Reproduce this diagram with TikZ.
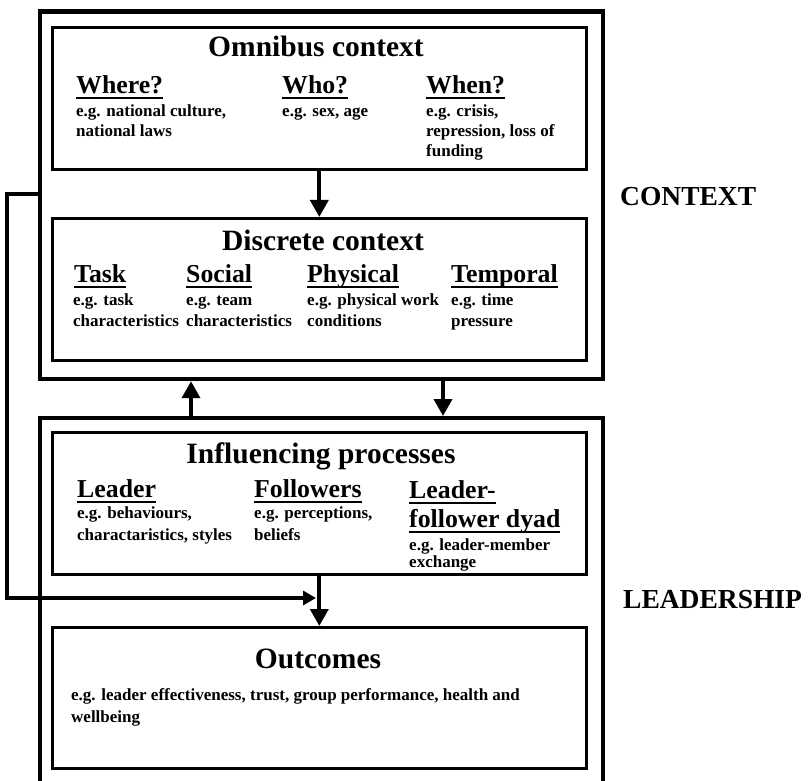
\documentclass[tikz,border=0pt]{standalone}
\usepackage{fontspec}
\setmainfont{Liberation Serif}
\usetikzlibrary{arrows.meta}
\newcommand\ulh[1]{\setbox0\hbox{#1}\rlap{\rule[-5.5pt]{\wd0}{2pt}}\box0}
\tikzset{
  outerbox/.style={draw, line width=4.2pt, anchor=north west, inner sep=0pt},
  innerbox/.style={draw, line width=2.6pt, anchor=north west, inner sep=0pt, minimum width=534pt},
  ttl/.style={anchor=base, inner sep=0pt, font=\bfseries\fontsize{29.5}{30}\selectfont},
  hd/.style={anchor=base west, inner sep=0pt, font=\bfseries\fontsize{25.8}{26}\selectfont},
  bd/.style={anchor=base west, inner sep=0pt, font=\bfseries\fontsize{17}{20}\selectfont},
  side/.style={anchor=base west, inner sep=0pt, font=\bfseries\fontsize{27.5}{28}\selectfont},
  arr/.style={line width=3.8pt, -{Triangle[width=18pt,length=17pt]}},
  fb/.style={line width=3.2pt, -{Triangle[width=14pt,length=13pt]}}
}
\begin{document}
\begin{tikzpicture}[x=1pt,y=-1pt]
\useasboundingbox (0,0) rectangle (809,781);
\clip (0,0) rectangle (809,781);
% outer boxes
\node[outerbox, minimum width=563pt, minimum height=367.5pt] (ctx) at (37.5,9.5) {};
\node[outerbox, minimum width=563pt, minimum height=400pt] (lead) at (37.5,416) {};
% inner boxes
\node[innerbox, minimum height=142pt] (omni) at (51,26) {};
\node[innerbox, minimum height=142pt] (disc) at (51,217) {};
\node[innerbox, minimum height=142pt] (infl) at (51,431) {};
\node[innerbox, minimum height=141pt] (outc) at (51,626) {};
% Omnibus
\node[ttl] (t1) at (316,57) {Omnibus context};
\node[hd] (h11) at (76,94) {\ulh{Where?}};
\node[bd] (b111) at (76,117) {e.g. national culture,};
\node[bd] (b112) at (76,137) {national laws};
\node[hd] (h12) at (282,94) {\ulh{Who?}};
\node[bd] (b121) at (282,117) {e.g. sex, age};
\node[hd] (h13) at (426,94) {\ulh{When?}};
\node[bd] (b131) at (426,117) {e.g. crisis,};
\node[bd] (b132) at (426,137) {repression, loss of};
\node[bd] (b133) at (426,157) {funding};
% Discrete
\node[ttl] (t2) at (323,250) {Discrete context};
\node[hd] (h21) at (74,282) {\ulh{Task}};
\node[bd] (b211) at (73,305) {e.g. task};
\node[bd] (b212) at (73,326) {characteristics};
\node[hd] (h22) at (186,282) {\ulh{Social}};
\node[bd] (b221) at (186,305) {e.g. team};
\node[bd] (b222) at (186,326) {characteristics};
\node[hd] (h23) at (307,282) {\ulh{Physical}};
\node[bd] (b231) at (307,305) {e.g. physical work};
\node[bd] (b232) at (307,326) {conditions};
\node[hd] (h24) at (451,282) {\ulh{Temporal}};
\node[bd] (b241) at (451,305) {e.g. time};
\node[bd] (b242) at (451,326) {pressure};
% Influencing
\node[ttl] (t3) at (321,463) {Influencing processes};
\node[hd] (h31) at (77,497) {\ulh{Leader}};
\node[bd] (b311) at (77,518) {e.g. behaviours,};
\node[bd] (b312) at (77,540) {charactaristics, styles};
\node[hd] (h32) at (254,497) {\ulh{Followers}};
\node[bd] (b321) at (254,518) {e.g. perceptions,};
\node[bd] (b322) at (254,540) {beliefs};
\node[hd] (h33a) at (409,498) {\ulh{Leader-}};
\node[hd] (h33b) at (409,527) {\ulh{follower dyad}};
\node[bd] (b331) at (409,550) {e.g. leader-member};
\node[bd] (b332) at (409,567) {exchange};
% Outcomes
\node[ttl] (t4) at (318,668) {Outcomes};
\node[bd] (b41) at (71,700) {e.g. leader effectiveness, trust, group performance, health and};
\node[bd] (b42) at (71,722) {wellbeing};
% side labels
\node[side] (lc) at (620,205) {CONTEXT};
\node[side] (ll) at (623,608) {LEADERSHIP};
% arrows
\draw[arr] (omni.south) -- (disc.north);
\draw[arr] (infl.south) -- (outc.north);
\coordinate (up) at (191,0);
\coordinate (dn) at (443,0);
\draw[arr] (up |- lead.north) -- (up |- ctx.south);
\draw[arr] (dn |- ctx.south) -- (dn |- lead.north);
% feedback
\coordinate (fb1) at (7,194);
\coordinate (fb2) at (7,598);
\coordinate (fbend) at (316,598);
\draw[fb] (ctx.west |- fb1) -- (fb1) -- (fb2) -- (fbend);
\end{tikzpicture}
\end{document}
